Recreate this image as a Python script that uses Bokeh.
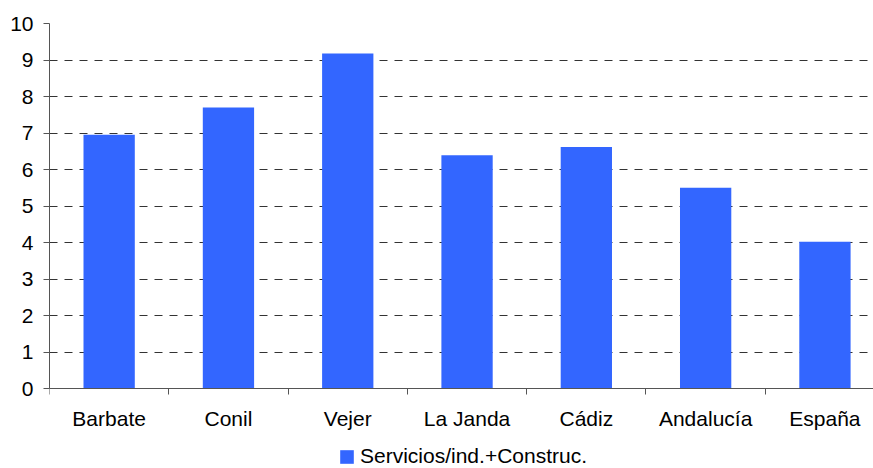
from bokeh.plotting import figure
from bokeh.models import FixedTicker, Range1d, Legend, LegendItem, ColumnDataSource
from bokeh.embed import file_html
from bokeh.resources import INLINE

categories = ["Barbate", "Conil", "Vejer", "La Janda", "Cádiz", "Andalucía", "España"]
values = [6.95, 7.70, 9.18, 6.39, 6.62, 5.50, 4.02]
y_ticks = [0, 1, 2, 3, 4, 5, 6, 7, 8, 9, 10]
series_name = "Servicios/ind.+Construc."

FONT = "Liberation Sans"
BLUE = "#3366FF"

xs = [i + 0.5 for i in range(len(categories))]
src = ColumnDataSource(dict(x=xs, top=values, name=categories))

# frame spans from the top margin down to the page bottom; the value axis runs 0..10
p = figure(width=873, height=468, output_backend="svg", toolbar_location=None,
           x_range=Range1d(0, 6.907), y_range=Range1d(-2.19, 10),
           min_border_left=49, min_border_right=0, min_border_top=23, min_border_bottom=0)
p.outline_line_color = None
p.background_fill_color = "white"
p.border_fill_color = "white"

r = p.vbar(x="x", top="top", width=0.43, source=src, fill_color=BLUE, line_color=None)

# y axis
p.yaxis.ticker = FixedTicker(ticks=y_ticks, minor_ticks=[])
p.yaxis.bounds = (0, 10)
p.yaxis.major_label_text_font = FONT
p.yaxis.major_label_text_font_size = "21px"
p.yaxis.major_label_text_color = "black"
p.yaxis.major_tick_out = 6
p.yaxis.major_tick_in = 0
p.yaxis.major_label_standoff = 10
p.yaxis.axis_line_color = "#555555"
p.yaxis.major_tick_line_color = "#555555"

# x axis, drawn at y = 0
p.xaxis.fixed_location = 0
p.xaxis.ticker = FixedTicker(ticks=xs, minor_ticks=list(range(len(categories) + 1)))
p.xaxis.major_label_overrides = {x: c for x, c in zip(xs, categories)}
p.xaxis.major_label_text_font = FONT
p.xaxis.major_label_text_font_size = "21px"
p.xaxis.major_label_text_color = "black"
p.xaxis.major_tick_out = 0
p.xaxis.major_tick_in = 0
p.xaxis.minor_tick_out = 6
p.xaxis.minor_tick_in = 0
p.xaxis.minor_tick_line_color = "#555555"
p.xaxis.major_label_standoff = 12
p.xaxis.axis_line_color = "#555555"

p.xgrid.grid_line_color = None
p.ygrid.grid_line_color = "#333333"
p.ygrid.grid_line_dash = "8 7"
p.ygrid.grid_line_width = 1

legend = Legend(items=[LegendItem(label=series_name, renderers=[r])],
                location=(289, 0), orientation="horizontal",
                glyph_width=17, glyph_height=17, label_standoff=5,
                padding=0, margin=0, spacing=0,
                label_text_font=FONT, label_text_font_size="21px",
                label_text_color="black",
                border_line_color=None, background_fill_alpha=0)
p.add_layout(legend, "center")

open("out.html", "w").write(file_html(p, INLINE))
